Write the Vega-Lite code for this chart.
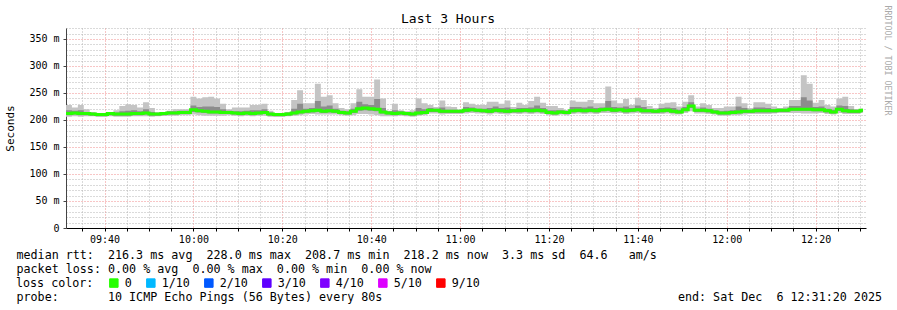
{
  "$schema": "https://vega.github.io/schema/vega-lite/v6.json",
  "width": 800,
  "height": 200,
  "autosize": "none",
  "padding": {"left": 66, "top": 28, "right": 31, "bottom": 82},
  "background": "white",
  "title": {"text": "Last 3 Hours", "anchor": "middle", "frame": "group", "font": "DejaVu Sans Mono", "fontSize": 13, "fontWeight": "normal", "color": "#000000", "dx": -18, "dy": 25, "offset": 4},
  "data": {"values": [
    {"t":1880,"lo":206,"q1":209,"q3":218,"hi":228,"med":212,"loss":"0"},
    {"t":1960,"lo":207,"q1":210,"q3":217,"hi":223,"med":213,"loss":"0"},
    {"t":2040,"lo":206,"q1":209,"q3":218,"hi":228,"med":212,"loss":"0"},
    {"t":2120,"lo":207,"q1":209,"q3":215,"hi":220,"med":212,"loss":"0"},
    {"t":2200,"lo":207,"q1":208,"q3":214,"hi":214,"med":211,"loss":"0"},
    {"t":2280,"lo":206,"q1":207,"q3":213,"hi":213,"med":210,"loss":"0"},
    {"t":2360,"lo":206,"q1":207,"q3":213,"hi":213,"med":210,"loss":"0"},
    {"t":2440,"lo":207,"q1":209,"q3":215,"hi":215,"med":212,"loss":"0"},
    {"t":2520,"lo":206,"q1":208,"q3":214,"hi":218,"med":211,"loss":"0"},
    {"t":2600,"lo":206,"q1":208,"q3":216,"hi":226,"med":211,"loss":"0"},
    {"t":2680,"lo":206,"q1":208,"q3":217,"hi":229,"med":211,"loss":"0"},
    {"t":2760,"lo":207,"q1":209,"q3":218,"hi":228,"med":212,"loss":"0"},
    {"t":2840,"lo":207,"q1":209,"q3":216,"hi":223,"med":212,"loss":"0"},
    {"t":2920,"lo":207,"q1":210,"q3":220,"hi":233,"med":213,"loss":"0"},
    {"t":3000,"lo":206,"q1":208,"q3":215,"hi":222,"med":211,"loss":"0"},
    {"t":3080,"lo":207,"q1":208,"q3":214,"hi":213,"med":211,"loss":"0"},
    {"t":3160,"lo":208,"q1":209,"q3":215,"hi":215,"med":212,"loss":"0"},
    {"t":3240,"lo":208,"q1":210,"q3":216,"hi":217,"med":213,"loss":"0"},
    {"t":3320,"lo":208,"q1":210,"q3":216,"hi":220,"med":213,"loss":"0"},
    {"t":3400,"lo":209,"q1":211,"q3":217,"hi":220,"med":214,"loss":"0"},
    {"t":3480,"lo":209,"q1":211,"q3":217,"hi":220,"med":214,"loss":"0"},
    {"t":3560,"lo":210,"q1":215,"q3":227,"hi":243,"med":219,"loss":"0"},
    {"t":3640,"lo":209,"q1":214,"q3":224,"hi":240,"med":217,"loss":"0"},
    {"t":3720,"lo":208,"q1":213,"q3":225,"hi":242,"med":216,"loss":"0"},
    {"t":3800,"lo":208,"q1":212,"q3":225,"hi":243,"med":215,"loss":"0"},
    {"t":3880,"lo":208,"q1":212,"q3":224,"hi":240,"med":215,"loss":"0"},
    {"t":3960,"lo":208,"q1":211,"q3":220,"hi":230,"med":214,"loss":"0"},
    {"t":4040,"lo":209,"q1":211,"q3":217,"hi":220,"med":214,"loss":"0"},
    {"t":4120,"lo":208,"q1":210,"q3":216,"hi":223,"med":213,"loss":"0"},
    {"t":4200,"lo":207,"q1":209,"q3":216,"hi":223,"med":212,"loss":"0"},
    {"t":4280,"lo":208,"q1":210,"q3":217,"hi":223,"med":213,"loss":"0"},
    {"t":4360,"lo":207,"q1":209,"q3":218,"hi":228,"med":212,"loss":"0"},
    {"t":4440,"lo":208,"q1":210,"q3":218,"hi":228,"med":213,"loss":"0"},
    {"t":4520,"lo":208,"q1":211,"q3":220,"hi":230,"med":214,"loss":"0"},
    {"t":4600,"lo":206,"q1":208,"q3":214,"hi":217,"med":211,"loss":"0"},
    {"t":4680,"lo":206,"q1":207,"q3":213,"hi":212,"med":210,"loss":"0"},
    {"t":4760,"lo":206,"q1":207,"q3":213,"hi":212,"med":210,"loss":"0"},
    {"t":4840,"lo":207,"q1":208,"q3":214,"hi":215,"med":211,"loss":"0"},
    {"t":4920,"lo":208,"q1":210,"q3":221,"hi":237,"med":213,"loss":"0"},
    {"t":5000,"lo":209,"q1":212,"q3":230,"hi":255,"med":215,"loss":"0"},
    {"t":5080,"lo":210,"q1":213,"q3":221,"hi":231,"med":216,"loss":"0"},
    {"t":5160,"lo":211,"q1":214,"q3":222,"hi":231,"med":217,"loss":"0"},
    {"t":5240,"lo":210,"q1":215,"q3":235,"hi":267,"med":218,"loss":"0"},
    {"t":5320,"lo":210,"q1":213,"q3":225,"hi":243,"med":216,"loss":"0"},
    {"t":5400,"lo":210,"q1":214,"q3":227,"hi":246,"med":217,"loss":"0"},
    {"t":5480,"lo":210,"q1":213,"q3":221,"hi":231,"med":216,"loss":"0"},
    {"t":5560,"lo":209,"q1":211,"q3":217,"hi":222,"med":214,"loss":"0"},
    {"t":5640,"lo":208,"q1":210,"q3":216,"hi":220,"med":213,"loss":"0"},
    {"t":5720,"lo":209,"q1":213,"q3":221,"hi":231,"med":216,"loss":"0"},
    {"t":5800,"lo":211,"q1":217,"q3":234,"hi":257,"med":221,"loss":"0"},
    {"t":5880,"lo":211,"q1":218,"q3":229,"hi":243,"med":222,"loss":"0"},
    {"t":5960,"lo":210,"q1":217,"q3":228,"hi":243,"med":221,"loss":"0"},
    {"t":6040,"lo":209,"q1":216,"q3":239,"hi":275,"med":220,"loss":"0"},
    {"t":6120,"lo":207,"q1":212,"q3":222,"hi":240,"med":215,"loss":"0"},
    {"t":6200,"lo":207,"q1":210,"q3":216,"hi":217,"med":213,"loss":"0"},
    {"t":6280,"lo":207,"q1":209,"q3":218,"hi":230,"med":212,"loss":"0"},
    {"t":6360,"lo":208,"q1":210,"q3":216,"hi":218,"med":213,"loss":"0"},
    {"t":6440,"lo":207,"q1":209,"q3":215,"hi":216,"med":212,"loss":"0"},
    {"t":6520,"lo":206,"q1":208,"q3":214,"hi":218,"med":211,"loss":"0"},
    {"t":6600,"lo":208,"q1":210,"q3":222,"hi":240,"med":213,"loss":"0"},
    {"t":6680,"lo":209,"q1":211,"q3":220,"hi":231,"med":214,"loss":"0"},
    {"t":6760,"lo":212,"q1":215,"q3":222,"hi":228,"med":218,"loss":"0"},
    {"t":6840,"lo":212,"q1":215,"q3":221,"hi":224,"med":218,"loss":"0"},
    {"t":6920,"lo":210,"q1":213,"q3":223,"hi":236,"med":216,"loss":"0"},
    {"t":7000,"lo":211,"q1":213,"q3":219,"hi":225,"med":216,"loss":"0"},
    {"t":7080,"lo":211,"q1":213,"q3":219,"hi":224,"med":216,"loss":"0"},
    {"t":7160,"lo":211,"q1":213,"q3":219,"hi":218,"med":216,"loss":"0"},
    {"t":7240,"lo":212,"q1":215,"q3":224,"hi":233,"med":218,"loss":"0"},
    {"t":7320,"lo":213,"q1":216,"q3":223,"hi":230,"med":219,"loss":"0"},
    {"t":7400,"lo":212,"q1":215,"q3":221,"hi":228,"med":218,"loss":"0"},
    {"t":7480,"lo":212,"q1":214,"q3":221,"hi":228,"med":217,"loss":"0"},
    {"t":7560,"lo":210,"q1":213,"q3":222,"hi":234,"med":216,"loss":"0"},
    {"t":7640,"lo":212,"q1":215,"q3":225,"hi":234,"med":218,"loss":"0"},
    {"t":7720,"lo":211,"q1":214,"q3":222,"hi":230,"med":217,"loss":"0"},
    {"t":7800,"lo":210,"q1":213,"q3":223,"hi":236,"med":216,"loss":"0"},
    {"t":7880,"lo":212,"q1":214,"q3":220,"hi":224,"med":217,"loss":"0"},
    {"t":7960,"lo":211,"q1":214,"q3":222,"hi":232,"med":217,"loss":"0"},
    {"t":8040,"lo":212,"q1":215,"q3":222,"hi":228,"med":218,"loss":"0"},
    {"t":8120,"lo":211,"q1":214,"q3":223,"hi":235,"med":217,"loss":"0"},
    {"t":8200,"lo":212,"q1":215,"q3":227,"hi":243,"med":218,"loss":"0"},
    {"t":8280,"lo":211,"q1":214,"q3":222,"hi":232,"med":217,"loss":"0"},
    {"t":8360,"lo":209,"q1":211,"q3":218,"hi":226,"med":214,"loss":"0"},
    {"t":8440,"lo":208,"q1":210,"q3":218,"hi":226,"med":213,"loss":"0"},
    {"t":8520,"lo":210,"q1":212,"q3":218,"hi":222,"med":215,"loss":"0"},
    {"t":8600,"lo":209,"q1":211,"q3":217,"hi":218,"med":214,"loss":"0"},
    {"t":8680,"lo":211,"q1":214,"q3":224,"hi":236,"med":217,"loss":"0"},
    {"t":8760,"lo":212,"q1":215,"q3":224,"hi":234,"med":218,"loss":"0"},
    {"t":8840,"lo":211,"q1":214,"q3":223,"hi":234,"med":217,"loss":"0"},
    {"t":8920,"lo":212,"q1":215,"q3":225,"hi":237,"med":218,"loss":"0"},
    {"t":9000,"lo":211,"q1":214,"q3":222,"hi":231,"med":217,"loss":"0"},
    {"t":9080,"lo":213,"q1":216,"q3":223,"hi":231,"med":219,"loss":"0"},
    {"t":9160,"lo":213,"q1":217,"q3":235,"hi":262,"med":220,"loss":"0"},
    {"t":9240,"lo":212,"q1":215,"q3":224,"hi":236,"med":218,"loss":"0"},
    {"t":9320,"lo":213,"q1":216,"q3":223,"hi":231,"med":219,"loss":"0"},
    {"t":9400,"lo":211,"q1":214,"q3":225,"hi":239,"med":217,"loss":"0"},
    {"t":9480,"lo":212,"q1":215,"q3":222,"hi":228,"med":218,"loss":"0"},
    {"t":9560,"lo":213,"q1":216,"q3":227,"hi":241,"med":219,"loss":"0"},
    {"t":9640,"lo":211,"q1":214,"q3":224,"hi":237,"med":217,"loss":"0"},
    {"t":9720,"lo":211,"q1":214,"q3":220,"hi":226,"med":217,"loss":"0"},
    {"t":9800,"lo":211,"q1":213,"q3":219,"hi":222,"med":216,"loss":"0"},
    {"t":9880,"lo":211,"q1":214,"q3":222,"hi":230,"med":217,"loss":"0"},
    {"t":9960,"lo":212,"q1":215,"q3":223,"hi":232,"med":218,"loss":"0"},
    {"t":10040,"lo":210,"q1":213,"q3":222,"hi":233,"med":216,"loss":"0"},
    {"t":10120,"lo":210,"q1":212,"q3":219,"hi":225,"med":215,"loss":"0"},
    {"t":10200,"lo":213,"q1":216,"q3":224,"hi":234,"med":219,"loss":"0"},
    {"t":10280,"lo":216,"q1":222,"q3":233,"hi":246,"med":226,"loss":"0"},
    {"t":10360,"lo":212,"q1":215,"q3":221,"hi":225,"med":218,"loss":"0"},
    {"t":10440,"lo":212,"q1":215,"q3":223,"hi":231,"med":218,"loss":"0"},
    {"t":10520,"lo":211,"q1":214,"q3":221,"hi":228,"med":217,"loss":"0"},
    {"t":10600,"lo":210,"q1":212,"q3":218,"hi":222,"med":215,"loss":"0"},
    {"t":10680,"lo":208,"q1":210,"q3":216,"hi":222,"med":213,"loss":"0"},
    {"t":10760,"lo":208,"q1":210,"q3":217,"hi":225,"med":213,"loss":"0"},
    {"t":10840,"lo":209,"q1":211,"q3":218,"hi":225,"med":214,"loss":"0"},
    {"t":10920,"lo":209,"q1":212,"q3":225,"hi":243,"med":215,"loss":"0"},
    {"t":11000,"lo":210,"q1":213,"q3":222,"hi":231,"med":216,"loss":"0"},
    {"t":11080,"lo":211,"q1":213,"q3":219,"hi":222,"med":216,"loss":"0"},
    {"t":11160,"lo":211,"q1":214,"q3":223,"hi":233,"med":217,"loss":"0"},
    {"t":11240,"lo":211,"q1":214,"q3":223,"hi":233,"med":217,"loss":"0"},
    {"t":11320,"lo":211,"q1":214,"q3":222,"hi":230,"med":217,"loss":"0"},
    {"t":11400,"lo":212,"q1":214,"q3":220,"hi":225,"med":217,"loss":"0"},
    {"t":11480,"lo":213,"q1":215,"q3":221,"hi":222,"med":218,"loss":"0"},
    {"t":11560,"lo":213,"q1":215,"q3":221,"hi":225,"med":218,"loss":"0"},
    {"t":11640,"lo":213,"q1":217,"q3":226,"hi":237,"med":220,"loss":"0"},
    {"t":11720,"lo":213,"q1":217,"q3":226,"hi":237,"med":220,"loss":"0"},
    {"t":11800,"lo":212,"q1":217,"q3":242,"hi":283,"med":220,"loss":"0"},
    {"t":11880,"lo":212,"q1":217,"q3":236,"hi":267,"med":220,"loss":"0"},
    {"t":11960,"lo":212,"q1":216,"q3":224,"hi":232,"med":219,"loss":"0"},
    {"t":12040,"lo":213,"q1":216,"q3":225,"hi":237,"med":219,"loss":"0"},
    {"t":12120,"lo":211,"q1":214,"q3":221,"hi":228,"med":217,"loss":"0"},
    {"t":12200,"lo":210,"q1":212,"q3":219,"hi":225,"med":215,"loss":"0"},
    {"t":12280,"lo":213,"q1":217,"q3":227,"hi":240,"med":220,"loss":"0"},
    {"t":12360,"lo":211,"q1":214,"q3":226,"hi":243,"med":217,"loss":"0"},
    {"t":12440,"lo":211,"q1":213,"q3":220,"hi":226,"med":216,"loss":"0"},
    {"t":12520,"lo":211,"q1":213,"q3":219,"hi":220,"med":216,"loss":"0"},
    {"t":12600,"lo":213,"q1":215,"q3":221,"hi":220,"med":218,"loss":"0"},
    {"t":12640,"lo":213,"q1":215,"q3":221,"hi":220,"med":218,"loss":"0"}
  ]},
  "encoding": {
    "x": {
      "field": "t", "type": "quantitative",
      "scale": {"domain": [1880, 12680], "nice": false, "zero": false},
      "axis": {
        "values": [2100,2400,2700,3000,3300,3600,3900,4200,4500,4800,5100,5400,5700,6000,6300,6600,6900,7200,7500,7800,8100,8400,8700,9000,9300,9600,9900,10200,10500,10800,11100,11400,11700,12000,12300,12600],
        "labelExpr": "datum.value % 1200 === 0 ? timeFormat(datetime(2025, 11, 6, 9, 0, datum.value), '%H:%M') : ''",
        "labelOverlap": false, "labelFlush": false, "labelBound": false,
        "labelFont": "DejaVu Sans Mono", "labelFontSize": 10, "labelColor": "#000000", "labelPadding": 3,
        "grid": true,
        "gridColor": {"condition": {"test": "datum.value % 1200 === 0", "value": "#f08c8c"}, "value": "#b4b4b4"},
        "gridDash": [1, 2], "gridWidth": 1,
        "domainColor": "#000000", "domainWidth": 1,
        "tickColor": "#000000", "tickSize": 3,
        "title": [
          "median rtt:\u00a0\u00a0216.3 ms avg\u00a0\u00a0228.0 ms max\u00a0\u00a0208.7 ms min\u00a0\u00a0218.2 ms now\u00a0\u00a03.3 ms sd\u00a0\u00a064.6\u00a0\u00a0\u00a0am/s",
          "packet loss: 0.00 % avg\u00a0\u00a00.00 % max\u00a0\u00a00.00 % min\u00a0\u00a00.00 % now",
          "\u2800",
          "probe:\u00a0\u00a0\u00a0\u00a0\u00a0\u00a0\u00a010 ICMP Echo Pings (56 Bytes) every 80s\u00a0\u00a0\u00a0\u00a0\u00a0\u00a0\u00a0\u00a0\u00a0\u00a0\u00a0\u00a0\u00a0\u00a0\u00a0\u00a0\u00a0\u00a0\u00a0\u00a0\u00a0\u00a0\u00a0\u00a0\u00a0\u00a0\u00a0\u00a0\u00a0\u00a0\u00a0\u00a0\u00a0\u00a0\u00a0\u00a0\u00a0\u00a0\u00a0\u00a0\u00a0\u00a0end: Sat Dec\u00a0\u00a06 12:31:20 2025"
        ],
        "titleX": -50, "titleY": 30, "titleAlign": "left", "titleAnchor": "start", "titleBaseline": "alphabetic",
        "titleFont": "DejaVu Sans Mono", "titleFontSize": 11.7, "titleFontWeight": "normal", "titleColor": "#000000", "titleLineHeight": 14
      }
    }
  },
  "layer": [
    {
      "mark": {"type": "area", "interpolate": "step-after", "color": "#c4c4c4"},
      "encoding": {
        "y": {
          "field": "hi", "type": "quantitative",
          "scale": {"domain": [0, 370.37], "nice": false, "zero": true},
          "axis": {
            "orient": "left",
            "values": [0,10,20,30,40,50,60,70,80,90,100,110,120,130,140,150,160,170,180,190,200,210,220,230,240,250,260,270,280,290,300,310,320,330,340,350,360,370],
            "labelExpr": "datum.value === 0 ? '0' : (datum.value % 50 === 0 ? datum.value + ' m' : '')",
            "labelOverlap": false, "labelFlush": false, "labelBound": false,
            "labelFont": "DejaVu Sans Mono", "labelFontSize": 10, "labelColor": "#000000", "labelPadding": 4,
            "grid": true,
            "gridColor": {"condition": {"test": "datum.value % 50 === 0", "value": "#f08c8c"}, "value": "#b4b4b4"},
            "gridDash": [1, 2], "gridWidth": 1,
            "domainColor": "#444444", "domainWidth": 1,
            "tickColor": {"condition": {"test": "datum.value % 50 === 0", "value": "#444444"}, "value": "transparent"},
            "tickSize": 3,
            "title": "Seconds", "titleX": -56, "titleY": 100, "titleAngle": 270, "titleAlign": "center", "titleBaseline": "middle",
            "titleFont": "DejaVu Sans Mono", "titleFontSize": 11, "titleFontWeight": "normal", "titleColor": "#000000"
          }
        },
        "y2": {"field": "lo"}
      }
    },
    {
      "mark": {"type": "area", "interpolate": "step-after", "color": "#8c8c8c"},
      "encoding": {
        "y": {
          "field": "q3", "type": "quantitative",
          "axis": {
            "orient": "right", "domain": false, "ticks": false, "labels": false, "grid": false,
            "title": "RRDTOOL / TOBI OETIKER", "titleAngle": 90, "titleX": 20, "titleY": 32,
            "titleAlign": "center", "titleBaseline": "middle",
            "titleFont": "DejaVu Sans Mono", "titleFontSize": 8.3, "titleFontWeight": "normal", "titleColor": "#aaaaaa"
          }
        },
        "y2": {"field": "q1"}
      }
    },
    {
      "mark": {"type": "line", "interpolate": "step-after", "strokeWidth": 3},
      "encoding": {
        "y": {"field": "med", "type": "quantitative", "axis": null},
        "color": {
          "field": "loss", "type": "nominal",
          "scale": {"domain": ["0", "1/10", "2/10", "3/10", "4/10", "5/10", "9/10"], "range": ["#26ff00", "#00b8ff", "#0059ff", "#5e00ff", "#7e00ff", "#dd00ff", "#ff0000"]},
          "legend": {
            "orient": "none", "legendX": -50, "legendY": 249, "direction": "horizontal", "padding": 0,
            "title": "loss color:", "titleOrient": "left", "titlePadding": 14,
            "titleFont": "DejaVu Sans Mono", "titleFontSize": 11.7, "titleFontWeight": "normal", "titleColor": "#000000",
            "labelFont": "DejaVu Sans Mono", "labelFontSize": 11.7, "labelColor": "#000000", "labelOffset": 5,
            "columnPadding": 12, "symbolType": "square", "symbolSize": 72,
            "encode": {"symbols": {"update": {"fill": {"scale": "color", "field": "value"}, "stroke": {"value": "#000000"}, "strokeWidth": {"value": 1}, "opacity": {"value": 1}}}}
          }
        }
      }
    }
  ],
  "resolve": {"axis": {"y": "independent"}},
  "config": {"view": {"stroke": null}, "font": "DejaVu Sans Mono"}
}
